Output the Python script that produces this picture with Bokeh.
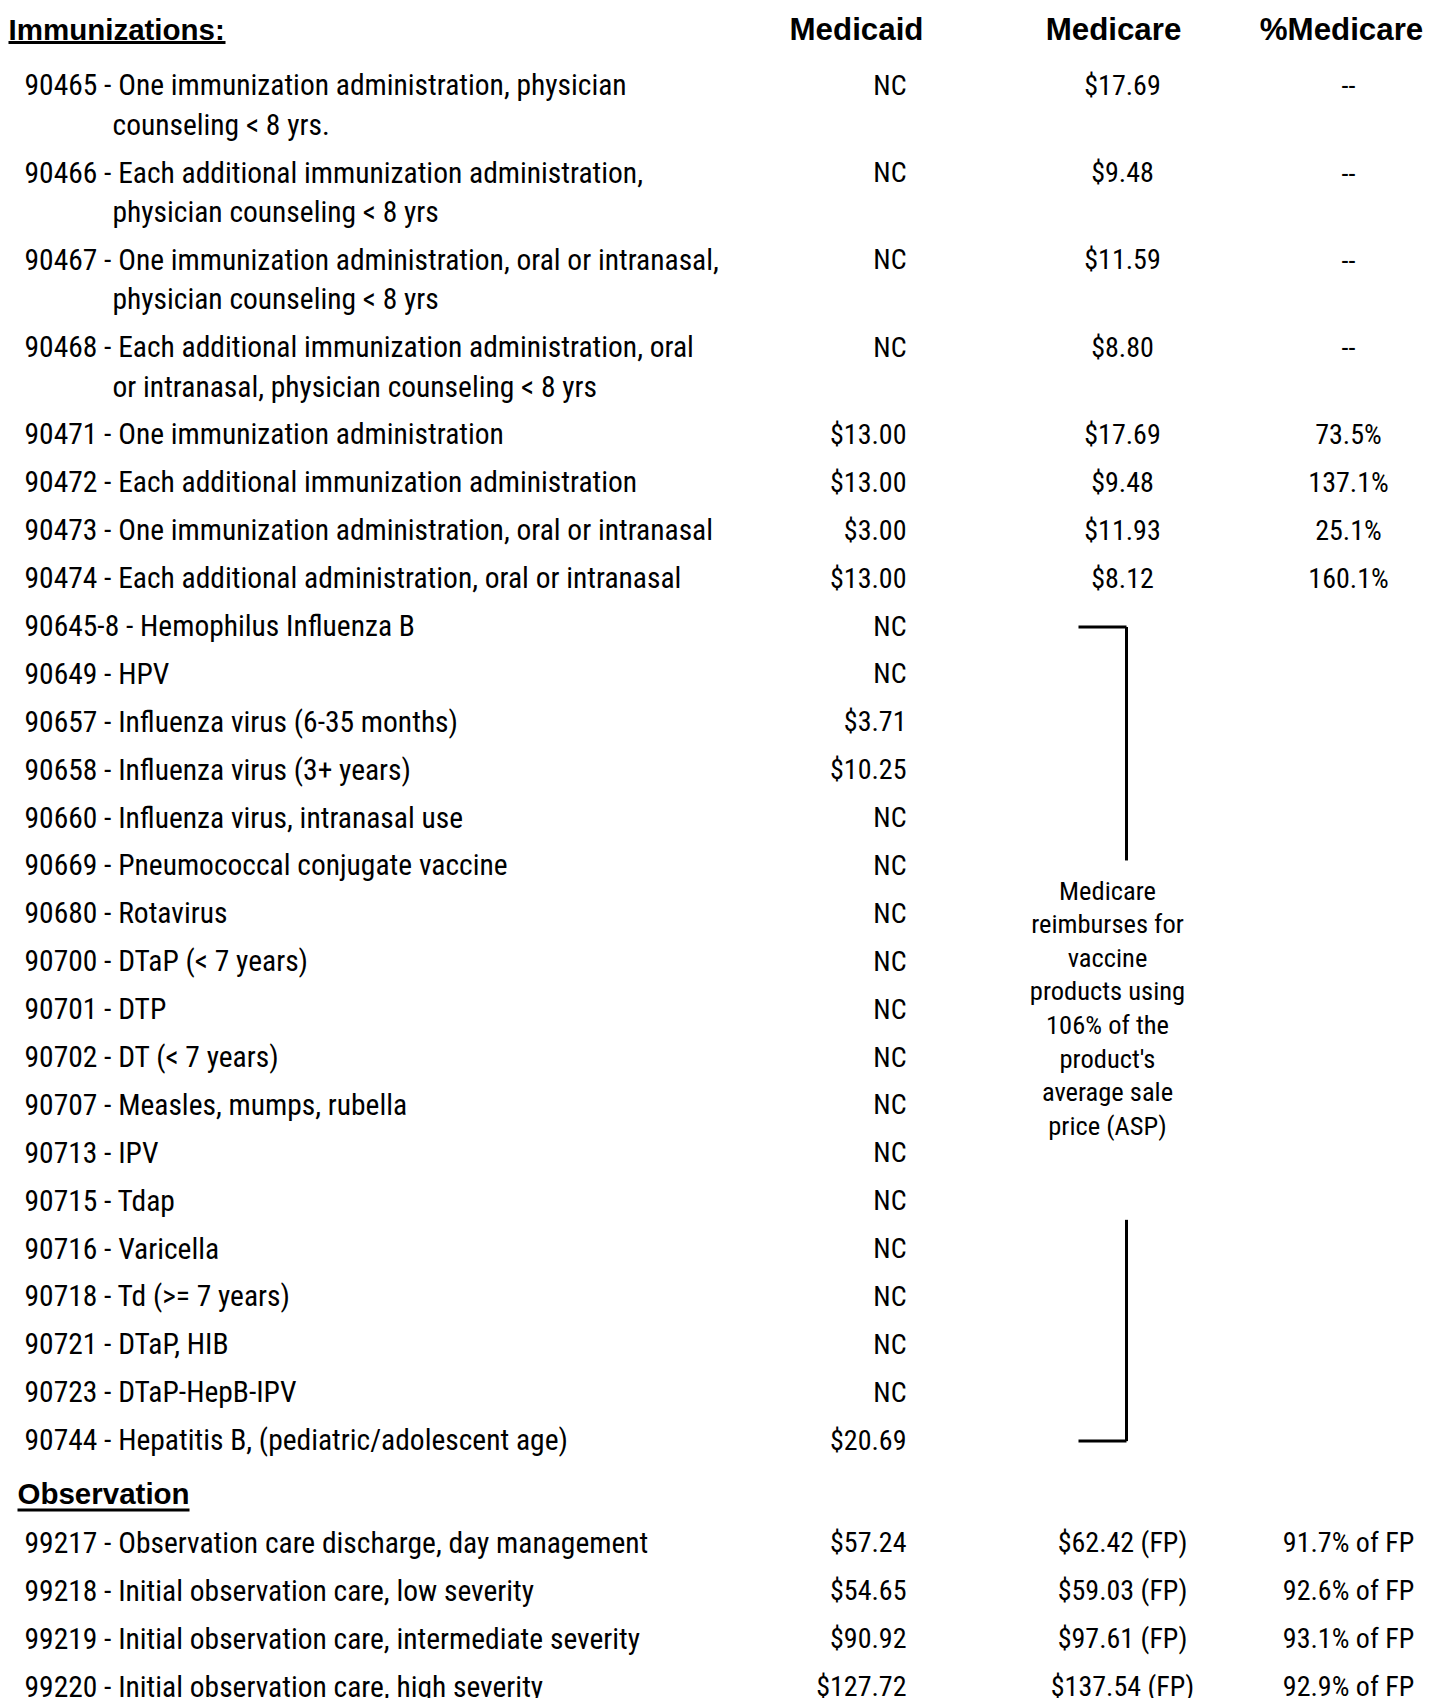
from bokeh.plotting import figure
from bokeh.models import Range1d, ColumnDataSource
from bokeh.embed import file_html
from bokeh.resources import INLINE
from bokeh.core.properties import value

# ---------------- data ----------------
column_headers = ["Medicaid", "Medicare", "%Medicare"]
section_titles = ["Immunizations:", "Observation"]

imm_codes = ["90465", "90466", "90467", "90468", "90471", "90472", "90473", "90474",
             "90645-8", "90649", "90657", "90658", "90660", "90669", "90680", "90700",
             "90701", "90702", "90707", "90713", "90715", "90716", "90718", "90721",
             "90723", "90744"]
imm_desc = [
    ["One immunization administration, physician", "counseling < 8 yrs."],
    ["Each additional immunization administration,", "physician counseling < 8 yrs"],
    ["One immunization administration, oral or intranasal,", "physician counseling < 8 yrs"],
    ["Each additional immunization administration, oral", "or intranasal, physician counseling < 8 yrs"],
    ["One immunization administration"],
    ["Each additional immunization administration"],
    ["One immunization administration, oral or intranasal"],
    ["Each additional administration, oral or intranasal"],
    ["Hemophilus Influenza B"],
    ["HPV"],
    ["Influenza virus (6-35 months)"],
    ["Influenza virus (3+ years)"],
    ["Influenza virus, intranasal use"],
    ["Pneumococcal conjugate vaccine"],
    ["Rotavirus"],
    ["DTaP (< 7 years)"],
    ["DTP"],
    ["DT (< 7 years)"],
    ["Measles, mumps, rubella"],
    ["IPV"],
    ["Tdap"],
    ["Varicella"],
    ["Td (>= 7 years)"],
    ["DTaP, HIB"],
    ["DTaP-HepB-IPV"],
    ["Hepatitis B, (pediatric/adolescent age)"],
]
# None = "NC" (not covered)
imm_medicaid = [None, None, None, None, 13.00, 13.00, 3.00, 13.00,
                None, None, 3.71, 10.25, None, None, None, None,
                None, None, None, None, None, None, None, None,
                None, 20.69]
# None = reimbursed via ASP (see note)
imm_medicare = [17.69, 9.48, 11.59, 8.80, 17.69, 9.48, 11.93, 8.12] + [None] * 18
# "--" where not computable, blank where Medicare uses ASP
imm_pct = ["--", "--", "--", "--", "73.5%", "137.1%", "25.1%", "160.1%"] + [""] * 18

obs_codes = ["99217", "99218", "99219", "99220"]
obs_desc = [
    ["Observation care discharge, day management"],
    ["Initial observation care, low severity"],
    ["Initial observation care, intermediate severity"],
    ["Initial observation care, high severity"],
]
obs_medicaid = [57.24, 54.65, 90.92, 127.72]
obs_medicare_fp = [62.42, 59.03, 97.61, 137.54]
obs_pct_fp = [91.7, 92.6, 93.1, 92.9]

asp_note = ["Medicare", "reimburses for", "vaccine", "products using",
            "106% of the", "product's", "average sale", "price (ASP)"]

# ---------------- layout / style ----------------
W, H = 1424, 1698
BODY_FONT = value("Roboto Condensed")
HEAD_FONT = value("Liberation Sans")
BODY_SIZE = "29.5px"
VALUE_SIZE = "28px"
NOTE_SIZE = "26.5px"
HEAD_SIZE = "29.5px"
COLHEAD_SIZE = "31.3px"
INK = "#000000"

X_CODE, X_WRAP = 24, 112
X_MEDICAID_R, X_MEDICARE_C, X_PCT_C = 906, 1122, 1348
X_HEAD = [856, 1113, 1341]
HEADER_Y = 29
FIRST_ROW_Y = 85
WRAP_GAP = 39.5
ROW_PITCH = 48

p = figure(width=W, height=H, x_range=Range1d(0, W), y_range=Range1d(H + 4, 0),
           output_backend="svg", toolbar_location=None,
           x_axis_type=None, y_axis_type=None, min_border=0,
           outline_line_color=None)
p.grid.visible = False
p.background_fill_color = "white"
p.border_fill_color = "white"


def fmt_money(v):
    return "NC" if v is None else "${:.2f}".format(v)


def layout_rows(descs, y0):
    ys, cont_y, cont_t = [], [], []
    y = y0
    for d in descs:
        ys.append(y)
        for k, extra in enumerate(d[1:]):
            cont_y.append(y + WRAP_GAP * (k + 1))
            cont_t.append(extra)
        y += WRAP_GAP * (len(d) - 1) + ROW_PITCH
    return ys, cont_y, cont_t


imm_y, imm_cy, imm_ct = layout_rows(imm_desc, FIRST_ROW_Y)
obs_head_y = imm_y[-1] + 54
obs_y, obs_cy, obs_ct = layout_rows(obs_desc, obs_head_y + 49)

# section headers (bold + underline)
sec_src = ColumnDataSource(dict(x=[8, 17], y=[HEADER_Y, obs_head_y], t=section_titles,
                                ux1=[225, 189],
                                uy=[HEADER_Y + 13, obs_head_y + 16]))
p.text(x="x", y="y", text="t", source=sec_src, text_font=HEAD_FONT,
       text_font_style="bold", text_font_size=HEAD_SIZE, text_color=INK,
       text_align="left", text_baseline="middle")
p.segment(x0="x", y0="uy", x1="ux1", y1="uy", source=sec_src,
          line_width=3, line_color=INK)

# column headers
p.text(x=X_HEAD, y=[HEADER_Y] * 3, text=column_headers, text_font=HEAD_FONT,
       text_font_style="bold", text_font_size=COLHEAD_SIZE, text_color=INK,
       text_align="center", text_baseline="middle")

# description rows
all_y = imm_y + obs_y
all_codes = imm_codes + obs_codes
all_first = [d[0] for d in imm_desc + obs_desc]
p.text(x=[X_CODE] * len(all_y), y=all_y,
       text=["{} - {}".format(c, d) for c, d in zip(all_codes, all_first)],
       text_font=BODY_FONT, text_font_size=BODY_SIZE, text_color=INK,
       text_align="left", text_baseline="middle")
p.text(x=[X_WRAP] * len(imm_cy + obs_cy), y=imm_cy + obs_cy, text=imm_ct + obs_ct,
       text_font=BODY_FONT, text_font_size=BODY_SIZE, text_color=INK,
       text_align="left", text_baseline="middle")

# Medicaid column (right aligned)
medicaid_txt = [fmt_money(v) for v in imm_medicaid + obs_medicaid]
p.text(x=[X_MEDICAID_R] * len(all_y), y=all_y, text=medicaid_txt,
       text_font=BODY_FONT, text_font_size=VALUE_SIZE, text_color=INK,
       text_align="right", text_baseline="middle")

# Medicare column (centered)
medicare_txt = ["" if v is None else fmt_money(v) for v in imm_medicare] + \
               ["${:.2f} (FP)".format(v) for v in obs_medicare_fp]
p.text(x=[X_MEDICARE_C] * len(all_y), y=all_y, text=medicare_txt,
       text_font=BODY_FONT, text_font_size=VALUE_SIZE, text_color=INK,
       text_align="center", text_baseline="middle")

# %Medicare column (centered)
pct_txt = imm_pct + ["{:.1f}% of FP".format(v) for v in obs_pct_fp]
p.text(x=[X_PCT_C] * len(all_y), y=all_y, text=pct_txt,
       text_font=BODY_FONT, text_font_size=VALUE_SIZE, text_color=INK,
       text_align="center", text_baseline="middle")

# ASP bracket + note
asp_rows = [i for i, v in enumerate(imm_medicare) if v is None]
y_top, y_bot = imm_y[asp_rows[0]] + 1, imm_y[asp_rows[-1]] + 1
NOTE_X, NOTE_Y0, NOTE_PITCH = 1107, 892, 33.6
note_y = [NOTE_Y0 + NOTE_PITCH * i for i in range(len(asp_note))]
BR_X0, BR_X1 = 1078, 1126
p.segment(x0=[BR_X0, BR_X1, BR_X1, BR_X0],
          y0=[y_top, y_top, note_y[-1] + 95, y_bot],
          x1=[BR_X1, BR_X1, BR_X1, BR_X1],
          y1=[y_top, note_y[0] - 30, y_bot, y_bot],
          line_width=3, line_color=INK)
p.text(x=[NOTE_X] * len(asp_note), y=note_y, text=asp_note,
       text_font=BODY_FONT, text_font_size=NOTE_SIZE, text_color=INK,
       text_align="center", text_baseline="middle")

open("out.html", "w").write(file_html(p, INLINE))
